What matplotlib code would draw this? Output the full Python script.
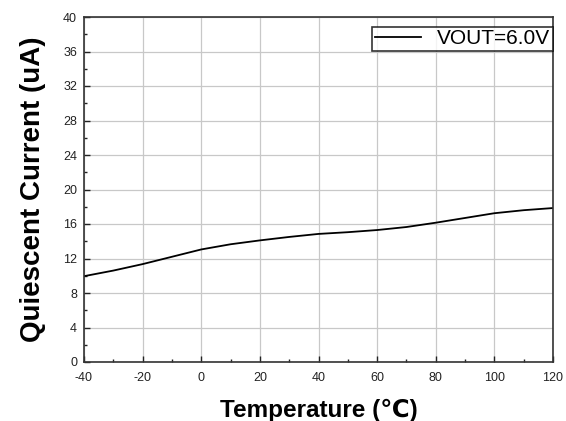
import matplotlib
matplotlib.use("Agg")
import matplotlib.pyplot as plt
from matplotlib.ticker import MultipleLocator

plt.rcParams['font.family'] = ['Liberation Sans', 'DejaVu Sans']
plt.rcParams['axes.unicode_minus'] = False

temperature = [-40, -30, -20, -10, 0, 10, 20, 30, 40, 50, 60, 70, 80, 90, 100, 110, 120]
current = [9.95, 10.6, 11.35, 12.2, 13.05, 13.65, 14.1, 14.5, 14.85, 15.05, 15.3, 15.65, 16.15, 16.7, 17.25, 17.6, 17.85]
series_label = "VOUT=6.0V"

fig = plt.figure(figsize=(5.66, 4.21), dpi=100)
ax = fig.add_axes([84/566, 1-362/421, (553-84)/566, (362-17)/421])
ax.plot(temperature, current, color='black', lw=1.3, label=series_label)
ax.set_xlim(-40, 120)
ax.set_ylim(0, 40)
ax.xaxis.set_major_locator(MultipleLocator(20))
ax.xaxis.set_minor_locator(MultipleLocator(10))
ax.yaxis.set_major_locator(MultipleLocator(4))
ax.yaxis.set_minor_locator(MultipleLocator(2))
ax.grid(True, which='major', color='#c8c8c8', lw=0.9)
ax.set_axisbelow(True)
ax.tick_params(which='both', direction='in', labelsize=9, colors='#222222')
ax.tick_params(which='major', length=4, width=1)
ax.tick_params(which='minor', length=2.5, width=1)
ax.tick_params(axis='x', which='major', pad=7)
ax.tick_params(axis='y', which='major', pad=5)
for s in ax.spines.values():
    s.set_linewidth(1.2)
    s.set_color('#333333')
ax.set_xlabel('Temperature (℃)', fontsize=17.5, fontweight='bold', labelpad=11)
ax.set_ylabel('Quiescent Current (uA)', fontsize=20, fontweight='bold', labelpad=12)
leg = ax.legend(loc='upper right', bbox_to_anchor=(1.0, 0.972), fontsize=15,
                frameon=True, fancybox=False, edgecolor='black',
                handlelength=2.2, handletextpad=0.8, borderpad=0.12, borderaxespad=0.0)
leg.get_frame().set_linewidth(1.2)
fig.savefig('out.png', dpi=100)
